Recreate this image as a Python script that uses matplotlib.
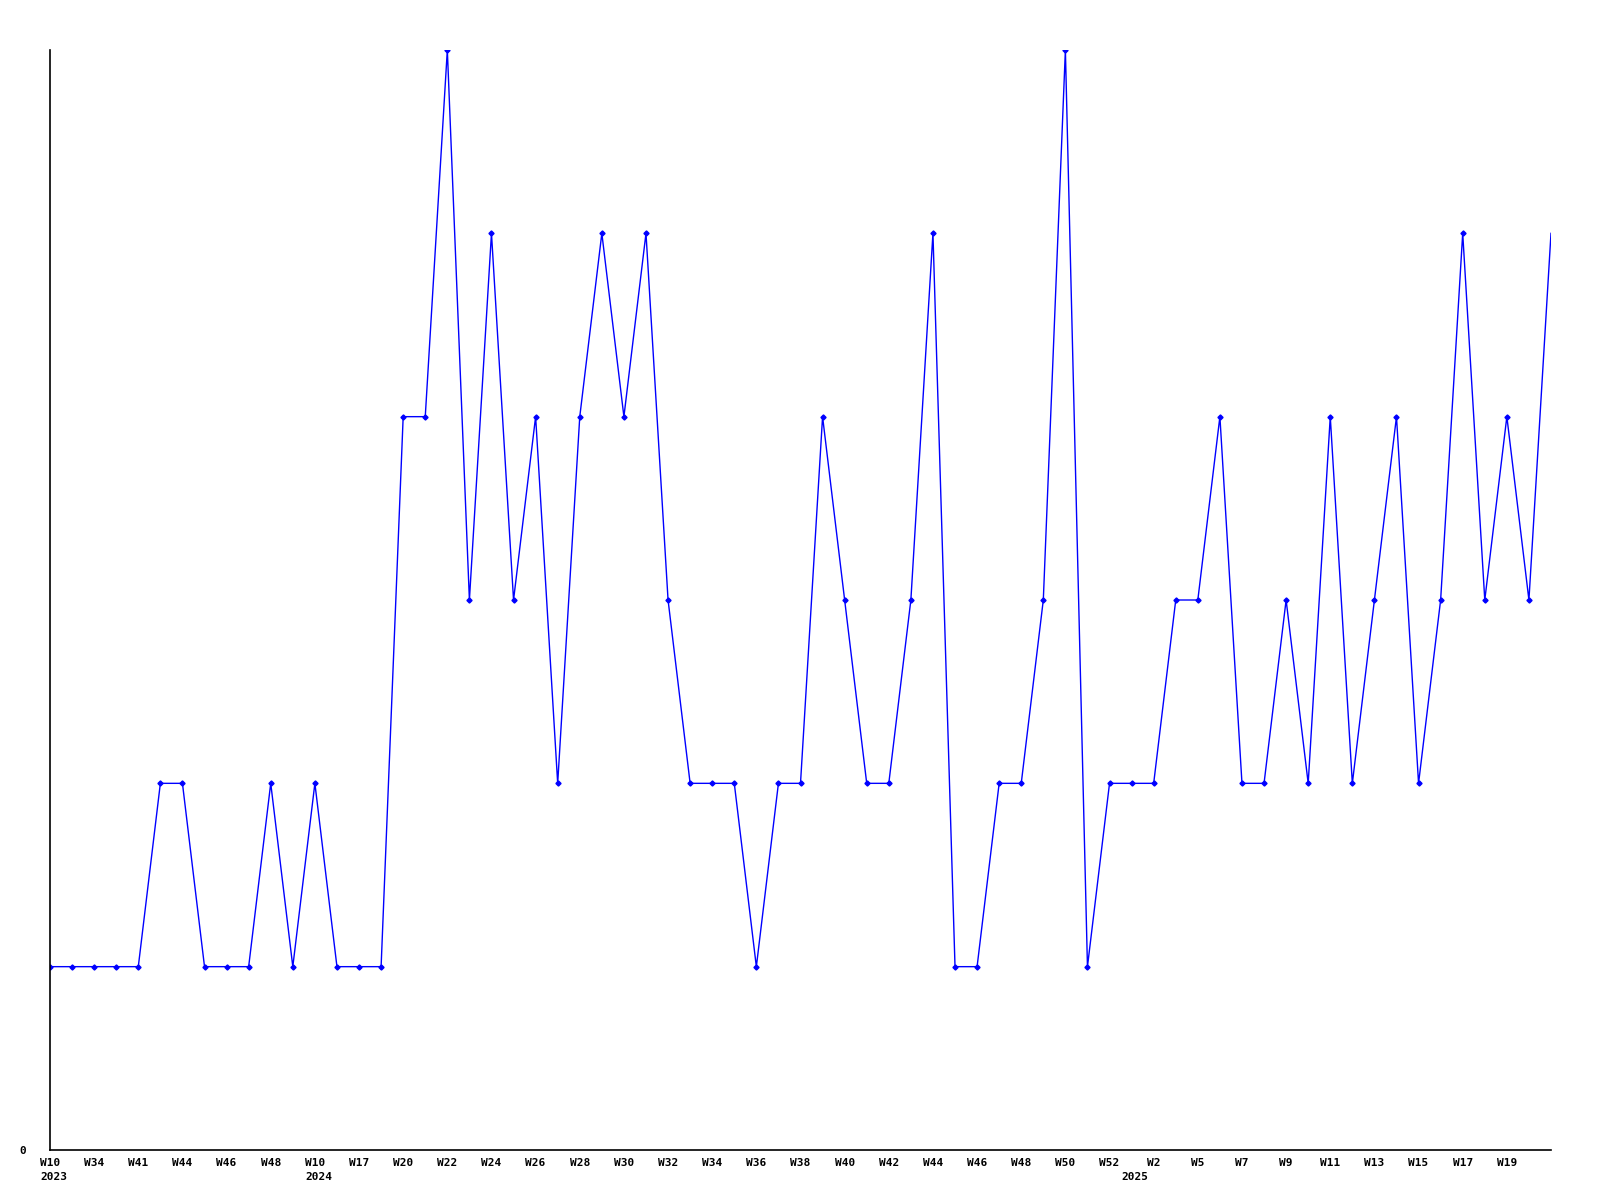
import matplotlib
matplotlib.use("Agg")
import matplotlib.pyplot as plt
import numpy as np

# weekly values, one per point
values = [1, 1, 1, 1, 1, 2, 2, 1, 1, 1, 2, 1, 2, 1, 1, 1, 4, 4, 6, 3,
          5, 3, 4, 2, 4, 5, 4, 5, 3, 2, 2, 2, 1, 2, 2, 4, 3, 2, 2, 3,
          5, 1, 1, 2, 2, 3, 6, 1, 2, 2, 2, 3, 3, 4, 2, 2, 3, 2, 4, 2,
          3, 4, 2, 3, 5, 3, 4, 3, 5]

# labels on every second point
week_labels = ["W10", "W34", "W41", "W44", "W46", "W48", "W10", "W17", "W20", "W22",
               "W24", "W26", "W28", "W30", "W32", "W34", "W36", "W38", "W40", "W42",
               "W44", "W46", "W48", "W50", "W52", "W2", "W5", "W7", "W9", "W11",
               "W13", "W15", "W17", "W19"]
# point index -> year text
year_labels = {0: "2023", 12: "2024", 49: "2025"}

fig = plt.figure(figsize=(16, 12), dpi=100)
ax = fig.add_axes([50/1600, 1 - 1150/1200, 1501/1600, 1100/1200])

x = np.arange(len(values))
ax.plot(x, values, color="#0000ff", linewidth=1.0, marker="D", markersize=2.6,
        markevery=list(range(len(values) - 1)))

ax.set_xlim(0, len(values) - 1)
ax.set_ylim(0, 6)

for s in ["top", "right"]:
    ax.spines[s].set_visible(False)
for s in ["left", "bottom"]:
    ax.spines[s].set_linewidth(1.2)
    ax.spines[s].set_color("black")

font = dict(family="DejaVu Sans Mono", weight="bold", size=8)
ax.set_xticks(x[::2][:len(week_labels)])
ax.set_xticklabels(week_labels, **font)
ax.set_yticks([0])
ax.set_yticklabels(["0"], **font)
ax.tick_params(axis="both", length=0, pad=6)
ax.tick_params(axis="y", pad=17)

for i, yr in year_labels.items():
    ax.annotate(yr, xy=(i, 0), xycoords=("data", "axes fraction"),
                xytext=(-7.2, -16), textcoords="offset points",
                ha="left", va="top", **font)

fig.savefig("out.png", dpi=100)
